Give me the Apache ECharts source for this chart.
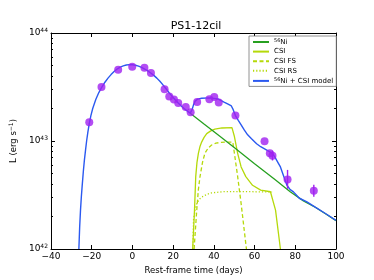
<!DOCTYPE html>
<html><head><meta charset="utf-8">
<script src="https://cdn.jsdelivr.net/npm/echarts@6/dist/echarts.min.js"></script>
<style>html,body{margin:0;padding:0;background:#fff}#c{width:374px;height:280px}</style>
</head><body><div id="c"></div>
<script>
// Observed bolometric light curve (days, L in erg/s)
const obsDays = [-21.2,-15.2,-7.0,-0.1,5.9,9.1,15.8,18.1,20.4,22.5,26.2,28.6,31.8,37.8,40.2,42.4,50.6,64.9,67.5,68.8,76.2,89.1];
const obsL = [1.49e43,3.16e43,4.56e43,4.86e43,4.76e43,4.26e43,3.02e43,2.58e43,2.42e43,2.25e43,2.07e43,1.85e43,2.30e43,2.44e43,2.55e43,2.27e43,1.72e43,9.93e42,7.69e42,7.31e42,4.41e42,3.46e42];
// error bars (days, low, high)
const errDays = [68.8,76.2,89.1];
const errLow = [6.6e42,3.61e42,3.04e42];
const errHigh = [8.1e42,5.40e42,3.94e42];

// 56Ni + CSI model
const modelDays = [-26.3,-25.9,-25.5,-25.1,-24.7,-24.1,-23.6,-23.0,-22.5,-21.9,-21.2,-20.4,-19.5,-18,-16.5,-15,-13.5,-12,-10.5,-9,-7.5,-6,-4.5,-3,-1.5,0,1.5,3,4.5,6,7.5,9,10.5,12,13.5,15,16.5,18,19.5,21,22.5,24,25.5,27,28.4,29.3,30.0,30.8,32,34,38,42,45,47,48.6,49.5,50.6,52,53.4,55,56.6,58.5,61,63,66,68.7,70,71.5,72.7,74,75.9,77.5,79.1,82,85.5,90,95.2,100];
const modelL = [1.0e42,1.62e42,2.29e42,3.02e42,3.80e42,5.25e42,6.61e42,8.32e42,1.0e43,1.20e43,1.45e43,1.72e43,2.0e43,2.42e43,2.81e43,3.16e43,3.50e43,3.82e43,4.12e43,4.40e43,4.64e43,4.83e43,4.96e43,5.05e43,5.09e43,5.08e43,5.03e43,4.94e43,4.81e43,4.64e43,4.46e43,4.26e43,4.05e43,3.82e43,3.57e43,3.31e43,3.05e43,2.80e43,2.59e43,2.41e43,2.25e43,2.11e43,1.99e43,1.89e43,1.81e43,1.95e43,2.16e43,2.34e43,2.44e43,2.49e43,2.51e43,2.45e43,2.29e43,2.19e43,2.11e43,1.95e43,1.72e43,1.55e43,1.41e43,1.26e43,1.14e43,1.05e43,9.44e42,8.85e42,8.22e42,7.69e42,7.08e42,6.31e42,5.75e42,4.90e42,3.89e42,3.55e42,3.38e42,2.95e42,2.75e42,2.43e42,2.11e42,1.84e42];

// 56Ni component
const niDays = [28.4,35,42,50,60,70,77.5,84,90,95.2,100];
const niL = [1.81e43,1.445e43,1.14e43,8.71e42,6.17e42,4.40e42,3.39e42,2.79e42,2.42e42,2.10e42,1.83e42];

// CSI total
const csiDays = [29.6,30.5,31.1,31.7,32.4,33.2,34,35.2,36.5,38.5,40.5,44,48.9,50.1,51.7,53.4,55.7,59,63,67.8,68.7,70.3,72.7];
const csiL = [1.0e42,2.29e42,4.68e42,6.31e42,7.69e42,8.91e42,9.77e42,1.08e43,1.17e43,1.24e43,1.29e43,1.32e43,1.33e43,1.10e43,7.69e42,5.75e42,4.68e42,3.89e42,3.51e42,3.39e42,3.37e42,2.29e42,1.0e42];

// CSI forward shock
const fsDays = [30.3,31.6,32.4,33.2,34.4,35.6,37.2,38.9,41,43.7,49.3,50.1,51.7,53.4,56];
const fsL = [1.0e42,2.29e42,3.55e42,4.68e42,6.31e42,7.69e42,8.61e42,9.18e42,9.55e42,9.73e42,9.77e42,7.69e42,4.68e42,2.63e42,1.0e42];

// CSI reverse shock
const rsDays = [29.7,30,30.8,31.6,32.8,34,36.5,38.9,45.3,55,68.6];
const rsL = [1.0e42,1.86e42,2.29e42,2.63e42,2.88e42,3.02e42,3.20e42,3.31e42,3.40e42,3.40e42,3.37e42];

const xTicks = [-40,-20,0,20,40,60,80,100];
const yMajor = [1e42,1e43,1e44];
const yMinor = [2e42,3e42,4e42,5e42,6e42,7e42,8e42,9e42,2e43,3e43,4e43,5e43,6e43,7e43,8e43,9e43];

const zip = (a,b) => a.map((v,i)=>[v,b[i]]);
const FONT = 'DejaVu Sans';
const C_BLUE = '#2b59f0', C_GREEN = '#27a020', C_YEL = '#b5d90a', C_PUR = '#a020f0';

const chart = echarts.init(document.getElementById('c'), null, {renderer:'canvas'});
const axLine = {show:true, onZero:false, lineStyle:{color:'#000', width:1}};
const noLine = {show:false, onZero:false};
const yBase = {type:'log', logBase:10, min:1e42, max:1e44, splitLine:{show:false}};
const xBase = {type:'value', min:-40, max:100, interval:20, splitLine:{show:false}};

chart.setOption({
  animation:false,
  title:{text:'PS1-12cil', left:191, top:16, textAlign:'center',
    textStyle:{fontFamily:FONT, fontSize:11, fontWeight:'normal', color:'#000'}},
  grid:{left:47, right:38, top:33, bottom:31},
  legend:{
    data:['56Ni','CSI','CSI FS','CSI RS','56Ni + CSI model'],
    orient:'vertical', left:249, top:36, itemWidth:16, itemHeight:7, itemGap:2.6,
    padding:[2,3,2,3], borderColor:'#777', borderWidth:0.8, backgroundColor:'#fff',
    itemStyle:{opacity:0},
    textStyle:{fontFamily:FONT, fontSize:7, color:'#000', rich:{s:{fontSize:5, fontFamily:FONT, padding:[0,0,3,0]}}},
    formatter: n => n.replace('56Ni','{s|56}Ni')
  },
  xAxis:[
    Object.assign({}, xBase, {position:'bottom', axisLine:axLine,
      axisTick:{inside:true, length:4, lineStyle:{color:'#000'}},
      axisLabel:{fontFamily:FONT, fontSize:9, color:'#000', margin:3,
        formatter: v => v<0 ? '\u2212'+Math.abs(v) : String(v)},
      name:'Rest-frame time (days)', nameLocation:'middle', nameGap:15,
      nameTextStyle:{fontFamily:FONT, fontSize:8.5, color:'#000'}}),
    Object.assign({}, xBase, {position:'top', axisLine:axLine,
      axisTick:{inside:true, length:4, lineStyle:{color:'#000'}}, axisLabel:{show:false}})
  ],
  yAxis:[
    Object.assign({}, yBase, {position:'left', axisLine:axLine,
      axisTick:{inside:true, length:4, customValues:yMajor, lineStyle:{color:'#000'}},
      axisLabel:{customValues:yMajor, fontFamily:FONT, fontSize:9, color:'#000', margin:3,
        formatter: v => '10{s|' + Math.round(Math.log10(v)) + '}',
        rich:{s:{fontSize:6, fontFamily:FONT, padding:[0,0,6,0]}}},
      name:'L (erg s{s|\u22121})', nameLocation:'middle', nameGap:19,
      nameTextStyle:{fontFamily:FONT, fontSize:8.5, color:'#000', rich:{s:{fontSize:6, fontFamily:FONT, padding:[0,0,5,0]}}}}),
    Object.assign({}, yBase, {position:'left', axisLine:noLine,
      axisTick:{inside:true, length:2, customValues:yMinor, lineStyle:{color:'#000'}}, axisLabel:{show:false}}),
    Object.assign({}, yBase, {position:'right', axisLine:axLine,
      axisTick:{inside:true, length:4, customValues:yMajor, lineStyle:{color:'#000'}}, axisLabel:{show:false}}),
    Object.assign({}, yBase, {position:'right', axisLine:noLine,
      axisTick:{inside:true, length:2, customValues:yMinor, lineStyle:{color:'#000'}}, axisLabel:{show:false}})
  ],
  series:[
    {name:'56Ni', type:'line', data:zip(niDays,niL), symbol:'none', lineStyle:{color:C_GREEN, width:1.3}, itemStyle:{color:C_GREEN}, z:3},
    {name:'CSI', type:'line', data:zip(csiDays,csiL), symbol:'none', lineStyle:{color:C_YEL, width:1.3}, itemStyle:{color:C_YEL}, z:2},
    {name:'CSI FS', type:'line', data:zip(fsDays,fsL), symbol:'none', lineStyle:{color:C_YEL, width:1.3, type:[4,2.5]}, itemStyle:{color:C_YEL}, z:2},
    {name:'CSI RS', type:'line', data:zip(rsDays,rsL), symbol:'none', lineStyle:{color:C_YEL, width:1.3, type:[1.2,2]}, itemStyle:{color:C_YEL}, z:2},
    {name:'errors', type:'custom', data:errDays.map((d,i)=>[d,errLow[i],errHigh[i]]), z:5,
      renderItem:(params, api) => {
        const a = api.coord([api.value(0), api.value(1)]);
        const b = api.coord([api.value(0), api.value(2)]);
        return {type:'line', shape:{x1:a[0], y1:a[1], x2:b[0], y2:b[1]}, style:{stroke:C_PUR, lineWidth:1.4}};
      }},
    {name:'obs', type:'scatter', data:zip(obsDays,obsL), symbol:'circle', symbolSize:8, itemStyle:{color:C_PUR}, z:6},
    {name:'56Ni + CSI model', type:'line', data:zip(modelDays,modelL), symbol:'none', lineStyle:{color:C_BLUE, width:1.4}, itemStyle:{color:C_BLUE}, z:4}
  ]
});
</script></body></html>
